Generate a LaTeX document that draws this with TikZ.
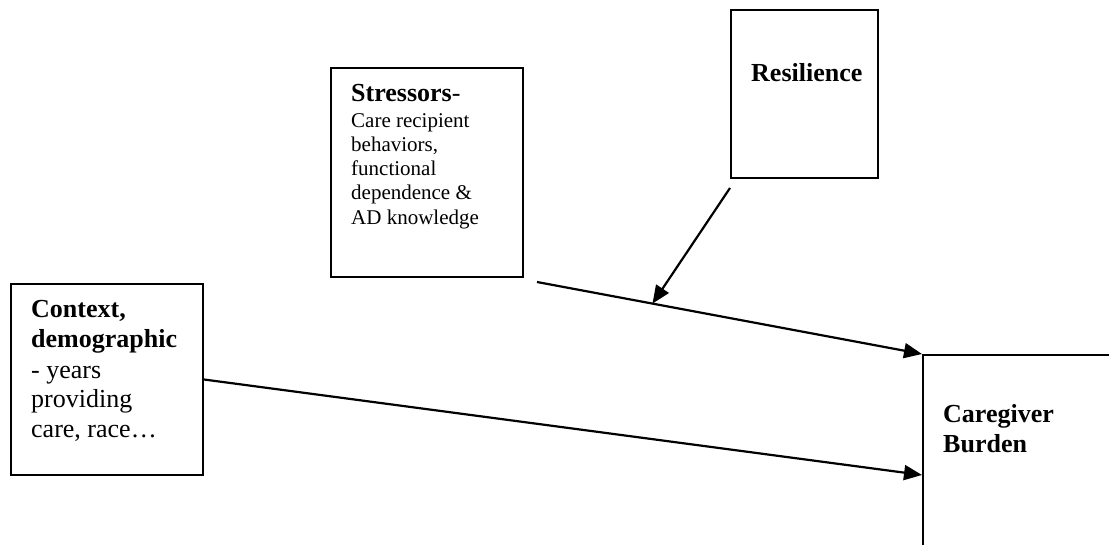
\documentclass[tikz,border=0pt]{standalone}
\usepackage{fontspec}
\setmainfont{Liberation Serif}
\usetikzlibrary{arrows.meta}
\tikzset{
  box/.style={draw=black, line width=2pt, rectangle, inner sep=0pt, anchor=north west},
  big/.style={inner sep=0pt, anchor=base west, align=left, font=\fontsize{26}{30}\selectfont},
  small/.style={inner sep=0pt, anchor=base west, align=left, font=\fontsize{21}{24.5}\selectfont},
  arr/.style={line width=2.2pt, -{Triangle[length=18pt,width=15pt]}},
}
\begin{document}
\begin{tikzpicture}[x=1pt,y=-1pt]
\useasboundingbox (0,0) rectangle (1109,545);
\fill[white] (0,0) rectangle (1109,545);
\clip (0,0) rectangle (1109,545);
% boxes
\node[box, minimum width=192pt, minimum height=209pt] (stress) at (330,67) {};
\node[box, minimum width=147pt, minimum height=168pt] (res) at (730,9) {};
\node[box, minimum width=192pt, minimum height=191pt] (ctx) at (10,283) {};
\node[box, minimum width=260pt, minimum height=240pt] (cg) at (922,354) {};
% texts
\node[big] (stresst) at (351,102) {\textbf{Stressors}-};
\node[small] (stressd) at (351,128) {Care recipient};
\node[small] (stressd2) at (351,152) {behaviors,};
\node[small] (stressd3) at (351,176) {functional};
\node[small] (stressd4) at (351,200) {dependence \&};
\node[small] (stressd5) at (351,225) {AD knowledge};
\node[big] (rest) at (751,82) {\textbf{Resilience}};
\node[big] (ctxt1) at (31,318) {\textbf{Context,}};
\node[big] (ctxt2) at (31,348) {\textbf{demographic}};
\node[big] (ctxt3) at (31,378) {- years};
\node[big] (ctxt4) at (31,407) {providing};
\node[big] (ctxt5) at (31,437) {care, race…};
\node[big] (cgt1) at (943,422) {\textbf{Caregiver}};
\node[big] (cgt2) at (943,452) {\textbf{Burden}};
% connectors
\coordinate (s0) at (537,282);
\path (s0) -- (cg.north west) coordinate[pos=0.3] (m);
\coordinate (r0) at ([yshift=-9pt]res.south west);
\draw[arr] (s0) -- (cg.north west);
\draw[arr] (r0) -- (m);
\draw[arr] (ctx.east) -- (cg.west);
\end{tikzpicture}
\end{document}
